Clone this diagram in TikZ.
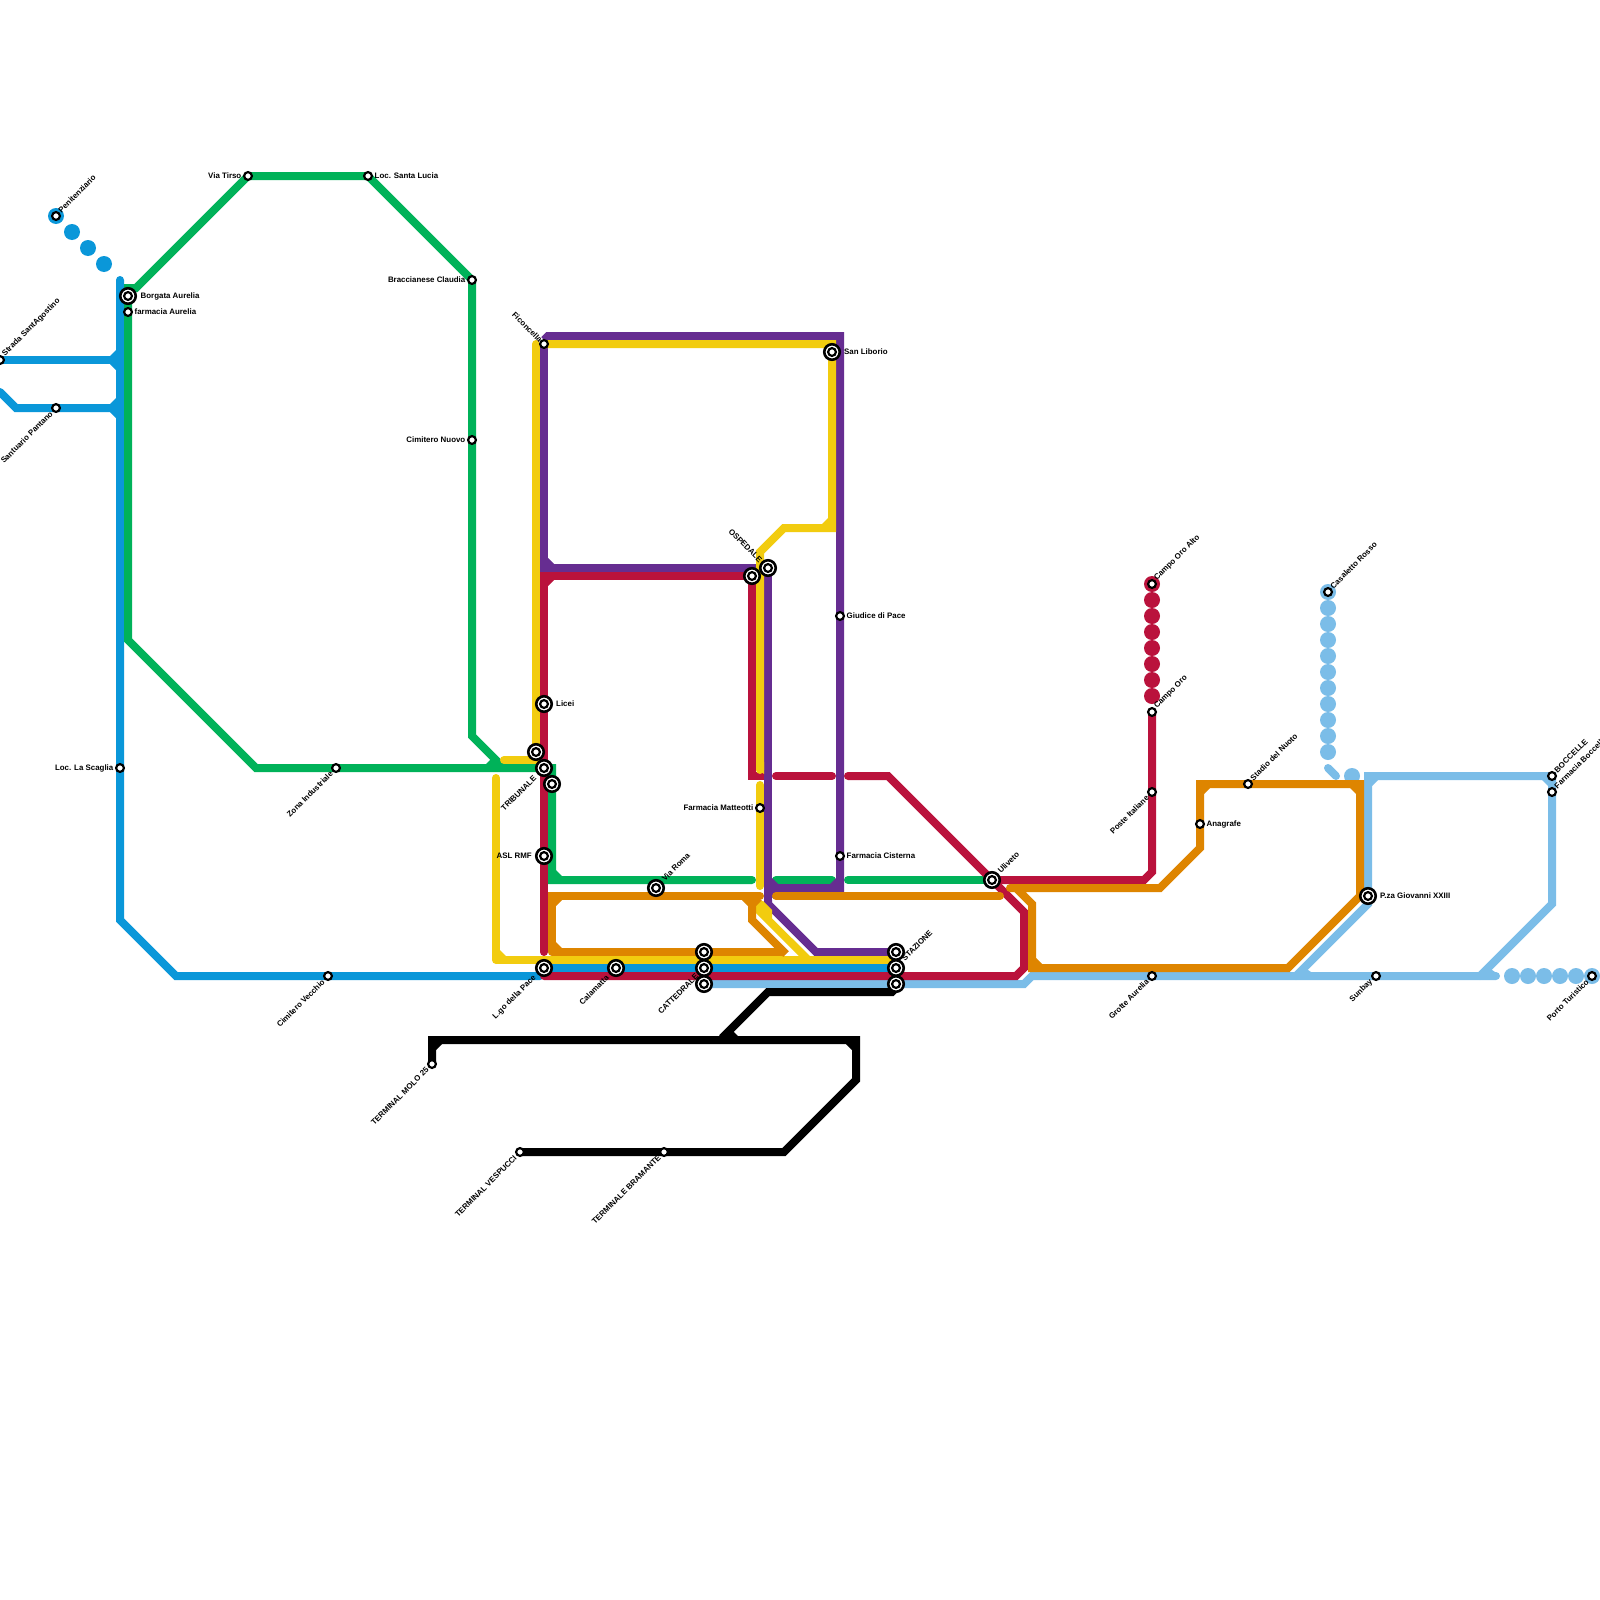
\documentclass[tikz,border=0pt]{standalone}
\usepackage{fontspec}
\setmainfont{Liberation Sans}
\usetikzlibrary{backgrounds}
\definecolor{cgreen}{HTML}{00B259}
\definecolor{cblue}{HTML}{0A97D9}
\definecolor{cred}{HTML}{BA123C}
\definecolor{cyellow}{HTML}{F2CC0F}
\definecolor{corange}{HTML}{DE8500}
\definecolor{cpurple}{HTML}{662D91}
\definecolor{clight}{HTML}{7BBDE8}
\tikzset{
  ln/.style={line width=8pt,line cap=round,line join=miter,miter limit=10},
  flat/.style={ln,line cap=butt},
  st/.style={circle,draw=black,fill=white,line width=2.2pt,minimum size=7.8pt,inner sep=0pt},
  dst/.style={circle,draw=black,fill=white,line width=2.6pt,minimum size=15.5pt,inner sep=0pt,
    path picture={\draw[black,line width=2.2pt] (path picture bounding box.center) circle (3.9pt);}},
  lab/.style={font=\bfseries\fontsize{7.9}{9}\selectfont,text=black,inner sep=0pt},
}
\newcommand{\lNE}[3][3.5]{\node[lab,rotate=45,anchor=west] (l#2) at ([shift={(#1,-#1-1.2)}]#2.center) {#3};}
\newcommand{\lSW}[3][4.5]{\node[lab,rotate=45,anchor=east] (l#2) at ([shift={(-#1,#1)}]#2.center) {#3};}
\newcommand{\lNW}[3][5]{\node[lab,rotate=-45,anchor=east] (l#2) at ([shift={(-#1,-#1)}]#2.center) {#3};}
\newcommand{\lR}[3][6.5]{\node[lab,anchor=west] (l#2) at ([shift={(#1,0)}]#2.center) {#3};}
\newcommand{\lL}[3][6.5]{\node[lab,anchor=east] (l#2) at ([shift={(-#1,0)}]#2.center) {#3};}
\newcommand{\chm}[5]{\fill[#1] ([shift={(#4*4,#5*4)}]#2,#3) -- ++(#4*6,0) -- ++(#4*-6,#5*6) -- cycle;}
\begin{document}
\begin{tikzpicture}[x=1pt,y=-1pt]
\path[use as bounding box] (0,0) rectangle (1600,1600);
% stations
\node[st]  (peni)  at (56,216) {};
\node[st]  (strada) at (0,360) {};
\node[st]  (santu) at (56,408) {};
\node[dst] (borg)  at (128,296) {};
\node[st]  (farmA) at (128,312) {};
\node[st]  (tirso) at (248,176) {};
\node[st]  (lucia) at (368,176) {};
\node[st]  (bracc) at (472,280) {};
\node[st]  (cimN)  at (472,440) {};
\node[st]  (scag)  at (120,768) {};
\node[st]  (zona)  at (336,768) {};
\node[st]  (cimV)  at (328,976) {};
\node[st]  (fico)  at (544,344) {};
\node[dst] (licei) at (544,704) {};
\node[dst] (trA)   at (536,752) {};
\node[dst] (trB)   at (544,768) {};
\node[dst] (trC)   at (552,784) {};
\node[dst] (asl)   at (544,856) {};
\node[dst] (lgo)   at (544,968) {};
\node[dst] (cala)  at (616,968) {};
\node[dst] (roma)  at (656,888) {};
\node[dst] (catA)  at (704,952) {};
\node[dst] (catB)  at (704,968) {};
\node[dst] (catC)  at (704,984) {};
\node[dst] (staA)  at (896,952) {};
\node[dst] (staB)  at (896,968) {};
\node[dst] (staC)  at (896,984) {};
\node[dst] (ospA)  at (752,576) {};
\node[dst] (ospB)  at (768,568) {};
\node[dst] (libo)  at (832,352) {};
\node[st]  (giud)  at (840,616) {};
\node[st]  (matt)  at (760,808) {};
\node[st]  (cist)  at (840,856) {};
\node[dst] (uliv)  at (992,880) {};
\node[st]  (oroA)  at (1152,584) {};
\node[st]  (oro)   at (1152,712) {};
\node[st]  (poste) at (1152,792) {};
\node[st]  (grot)  at (1152,976) {};
\node[st]  (anag)  at (1200,824) {};
\node[st]  (nuoto) at (1248,784) {};
\node[st]  (casa)  at (1328,592) {};
\node[dst] (piazza) at (1368,896) {};
\node[st]  (bocA)  at (1552,776) {};
\node[st]  (bocB)  at (1552,792) {};
\node[st]  (sunb)  at (1376,976) {};
\node[st]  (porto) at (1592,976) {};
\node[st]  (molo)  at (432,1064) {};
\node[st]  (vesp)  at (520,1152) {};
\node[st]  (bram)  at (664,1152) {};
% labels
\lNE{peni}{Penitenziario}
\lNE{strada}{Strada SantAgostino}
\lSW{santu}{Santuario Pantano}
\lR[12.5]{borg}{Borgata Aurelia}
\lR{farmA}{farmacia Aurelia}
\lL{tirso}{Via Tirso}
\lR{lucia}{Loc. Santa Lucia}
\lL{bracc}{Braccianese Claudia}
\lL{cimN}{Cimitero Nuovo}
\lL{scag}{Loc. La Scaglia}
\lSW{zona}{Zona Industriale}
\lSW{cimV}{Cimitero Vecchio}
\lNW[3]{fico}{Ficoncella}
\lR[12]{licei}{Licei}
\lSW[9]{trB}{TRIBUNALE}
\lL[12]{asl}{ASL RMF}
\lSW[9]{lgo}{L.go della Pace}
\lSW[8.5]{cala}{Calamatta}
\lNE[7]{roma}{Via Roma}
\lSW[7]{catB}{CATTEDRALE}
\lNE[7]{staB}{STAZIONE}
\lNW[7]{ospB}{OSPEDALE}
\lR[12]{libo}{San Liborio}
\lR{giud}{Giudice di Pace}
\lL{matt}{Farmacia Matteotti}
\lR{cist}{Farmacia Cisterna}
\lNE[7]{uliv}{Uliveto}
\lNE{oroA}{Campo Oro Alto}
\lNE{oro}{Campo Oro}
\lSW{poste}{Poste Italiane}
\lSW{grot}{Grotte Aurelia}
\lR{anag}{Anagrafe}
\lNE{nuoto}{Stadio del Nuoto}
\lNE{casa}{Casaletto Rosso}
\lR[12]{piazza}{P.za Giovanni XXIII}
\lNE{bocA}{BOCCELLE}
\lNE{bocB}{Farmacia Boccelle}
\lSW{sunb}{Sunbay}
\lSW{porto}{Porto Turistico}
\lSW{molo}{TERMINAL MOLO 25}
\lSW{vesp}{TERMINAL VESPUCCI}
\lSW{bram}{TERMINALE BRAMANTE}
\begin{scope}[on background layer]
\fill[white] (0,0) rectangle (1600,1600);
% light blue line
\draw[ln,clight] (catC.center) -- (1024,984) -- (1032,976) -- (1496,976);
\draw[ln,clight] (1296,976) -- (1368,904) -- (1368,776) -- (1552,776) -- (1552,904) -- (1480,976);
\fill[clight] (1302,966) -- (1311,972) -- (1298,972) -- cycle;
\fill[clight] (1486,966) -- (1495,972) -- (1482,972) -- cycle;
\chm{clight}{1368}{776}{1}{1}
\chm{clight}{1552}{776}{-1}{1}
\foreach \yy in {592,608,...,752} {\fill[clight] (1328,\yy) circle (8pt);}
\draw[ln,clight] (1328,768) -- (1336,776);
\fill[clight] (1352,776) circle (8pt);
\foreach \xx in {1512,1528,...,1592} {\fill[clight] (\xx,976) circle (8pt);}
% dark blue line
\draw[ln,cblue] (120,280) -- (120,920) -- (176,976) -- (540,976);
\draw[ln,cblue] (strada.center) -- (120,360);
\draw[ln,cblue] (0,392) -- (16,408) -- (120,408);
\fill[cblue] (110,356) -- (116,350) -- (116,370) -- (110,364) -- cycle;
\fill[cblue] (110,404) -- (116,398) -- (116,418) -- (110,412) -- cycle;
\draw[flat,cblue] (lgo.center) -- (staB.center);
\fill[cblue] (peni) circle (8pt);
\fill[cblue] (72,232) circle (8pt);
\fill[cblue] (88,248) circle (8pt);
\fill[cblue] (104,264) circle (8pt);
% green line
\draw[ln,cgreen] (752,880) -- (552,880) -- (552,768) -- (256,768) -- (128,640) -- (128,288) -- (136,288) -- (tirso.center) -- (lucia.center) -- (bracc.center) -- (472,736) -- (504,768);
\fill[cgreen] (486,764) -- (492,758) -- (496,764) -- cycle;
\chm{cgreen}{552}{880}{1}{-1}
\draw[ln,cgreen] (776,880) -- (832,880);
\draw[ln,cgreen] (848,880) -- (uliv.center);
% purple line
\draw[ln,cpurple] (ospB.center) -- (768,904);
\draw[flat,cpurple] (544,340) -- (548,336) -- (840,336) -- (840,888) -- (768,888);
\draw[flat,cpurple] (fico.center) -- (544,568) -- (ospB.center);
\draw[flat,cpurple] (768,900) -- (768,904) -- (816,952) -- (staA.center);
\chm{cpurple}{544}{568}{1}{-1}
\chm{cpurple}{840}{888}{-1}{-1}
\chm{cpurple}{768}{888}{1}{-1}
\chm{cpurple}{768}{888}{1}{1}
\chm{cpurple}{840}{336}{-1}{1}
% red line
\draw[flat,cred] (764,776) -- (752,776) -- (ospA.center) -- (544,576) -- (544,950);
\draw[ln,cred] (544,576) -- (544,952);
\chm{cred}{544}{576}{1}{1}
\draw[ln,cred] (776,776) -- (832,776);
\draw[ln,cred] (848,776) -- (888,776) -- (uliv.center) -- (1024,912) -- (1024,968) -- (1016,976) -- (544,976);
\draw[ln,cred] (uliv.center) -- (1144,880) -- (1152,872) -- (oro.center);
\foreach \yy in {584,600,...,696} {\fill[cred] (1152,\yy) circle (8pt);}
% yellow line
\draw[flat,cyellow] (536,345) -- (trA.center);
\draw[ln,cyellow] (536,345) -- (536,344);
\draw[flat,cyellow] (trA.center) -- (536,760) -- (504,760);
\draw[ln,cyellow] (505,760) -- (504,760);
\draw[ln,cyellow] (fico.center) -- (832,344) -- (832,528) -- (784,528) -- (760,552) -- (760,770);
\fill[cyellow] (756,762) -- (764,762) -- (764,774) -- (756,767) -- cycle;
\chm{cyellow}{832}{528}{-1}{-1}
\draw[ln,cyellow] (760,785) -- (760,886);
\fill[cyellow] (756,905) -- (758,901.5) -- (763,901) -- (772,910) -- (772,918.5) -- (812,958) -- (801,958) -- (756,913) -- cycle;
\draw[ln,cyellow] (496,778) -- (496,960);
\draw[flat,cyellow] (496,960) -- (896,960);
\chm{cyellow}{496}{960}{1}{-1}
% orange line
\draw[flat,corange] (552,952) -- (784,952);
\draw[flat,corange] (752,896) -- (752,920) -- (786,954);
\draw[ln,corange] (760,896) -- (552,896) -- (552,952);
\draw[ln,corange] (776,896) -- (1000,896);
\draw[ln,corange] (1010,888) -- (1160,888) -- (1200,848) -- (1200,784) -- (1360,784) -- (1360,896) -- (1288,968) -- (1032,968) -- (1032,904) -- (1016,888);
\chm{corange}{552}{896}{1}{1}
\chm{corange}{552}{952}{1}{-1}
\chm{corange}{752}{896}{-1}{1}
\chm{corange}{752}{896}{1}{1}
\chm{corange}{1200}{784}{1}{1}
\chm{corange}{1360}{784}{-1}{1}
\chm{corange}{1032}{968}{1}{-1}
% black line
\draw[ln,black] (molo.center) -- (432,1040) -- (856,1040) -- (856,1080) -- (784,1152) -- (vesp.center);
\draw[flat,black] (722,1038) -- (768,992) -- (892,992) -- (896,988);
\fill[black] (727,1036) -- (733,1031) -- (738,1036) -- cycle;
\chm{black}{432}{1040}{1}{1}
\chm{black}{856}{1040}{-1}{1}
\end{scope}
\end{tikzpicture}
\end{document}
